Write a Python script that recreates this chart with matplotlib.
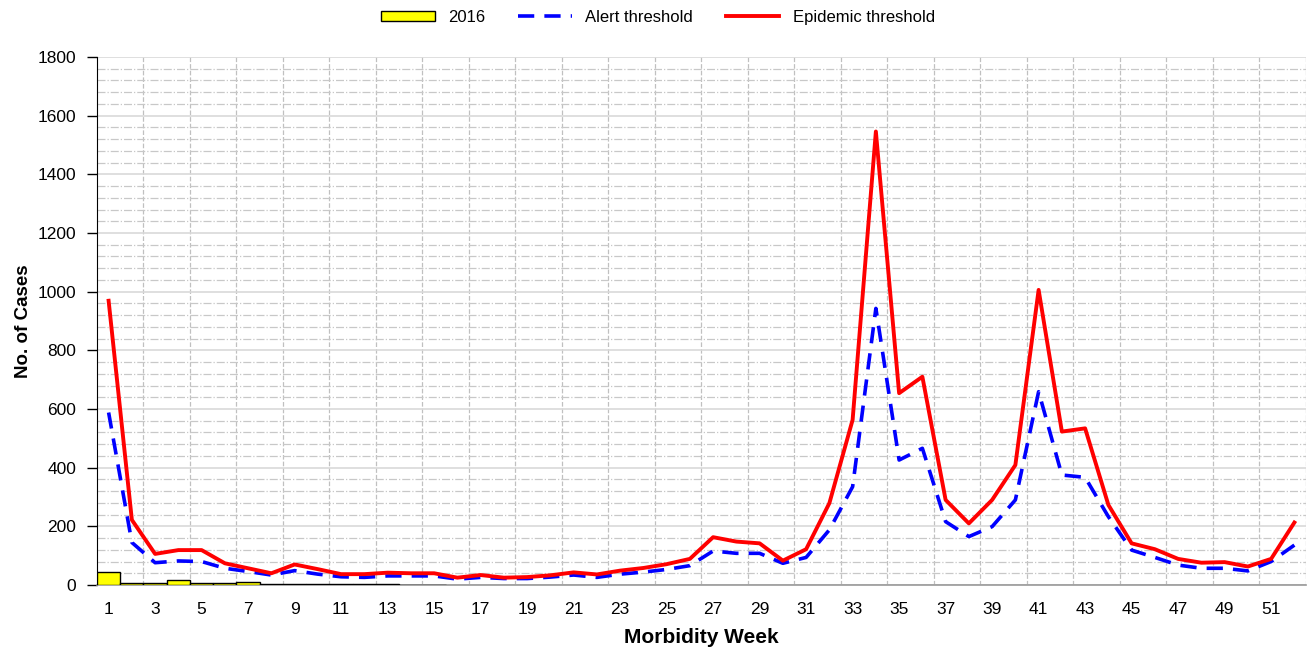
import numpy as np
import matplotlib.pyplot as plt
from matplotlib.ticker import MultipleLocator

plt.rcParams['font.family'] = ['Liberation Sans', 'DejaVu Sans']

# weekly data
weeks = list(range(1, 53))
cases_2016 = [45, 8, 8, 17, 8, 8, 11, 5, 2, 2, 2, 5, 2, 1, 1]
alert = [588, 145, 76, 82, 80, 57, 46, 34, 49, 37, 28, 26, 31, 31, 31, 20,
         26, 22, 22, 27, 34, 26, 37, 44, 53, 66, 116, 108, 108, 74, 94, 188,
         335, 943, 426, 466, 216, 165, 199, 290, 659, 375, 367, 233, 119, 94,
         68, 57, 57, 48, 80, 136]
epidemic = [969, 222, 106, 119, 119, 74, 57, 40, 70, 54, 37, 37, 42, 40, 40, 25,
            34, 25, 27, 33, 43, 36, 49, 58, 71, 89, 163, 148, 142, 83, 122, 279,
            563, 1546, 654, 710, 290, 210, 290, 409, 1006, 523, 534, 273, 142, 122,
            89, 76, 78, 63, 89, 213]
tick_weeks = list(range(1, 53, 2))

fig = plt.figure(figsize=(13.16, 6.5), dpi=100)
ax = fig.add_axes([0.0737, 0.1, 0.9187, 0.8123])

b = ax.bar(weeks[:len(cases_2016)], cases_2016, width=1.0, color='#ffff00',
           edgecolor='black', linewidth=1, label='2016', zorder=3)
l1, = ax.plot(weeks, alert, color='#0000ff', lw=2.6, dashes=(4.5, 2.8), label='Alert threshold', zorder=4)
l2, = ax.plot(weeks, epidemic, color='#ff0000', lw=2.8, label='Epidemic threshold', zorder=5)

ax.set_xlim(0.5, 52.5)
ax.set_ylim(0, 1800)
ax.yaxis.set_major_locator(MultipleLocator(200))
ax.yaxis.set_minor_locator(MultipleLocator(40))
ax.set_xticks(tick_weeks)
ax.set_xticks(np.arange(2.5, 53, 2), minor=True)
ax.tick_params(axis='x', which='both', length=0, labelsize=12.5, pad=12)
ax.tick_params(axis='y', which='major', length=7, labelsize=12.5, width=1, pad=8)
ax.tick_params(axis='y', which='minor', length=0)

ax.grid(axis='y', which='major', color='#d9d9d9', lw=1.2, ls='-', zorder=0)
ax.grid(axis='y', which='minor', color='#c8c8c8', lw=0.9, ls='-.', zorder=0)
ax.grid(axis='x', which='minor', color='#c0c0c0', lw=0.9, ls='--', zorder=0)
ax.grid(axis='x', which='major', visible=False)

for s in ['top', 'right']:
    ax.spines[s].set_visible(False)
ax.spines['left'].set_color('black')
ax.spines['bottom'].set_color('#999999')
ax.spines['bottom'].set_linewidth(1.2)

ax.set_xlabel('Morbidity Week', fontsize=15, fontweight='bold', labelpad=8)
ax.set_ylabel('No. of Cases', fontsize=13.5, fontweight='bold', labelpad=4)

fig.legend([b, l1, l2], ['2016', 'Alert threshold', 'Epidemic threshold'],
           loc='upper center', bbox_to_anchor=(0.5, 1.008), ncol=3, frameon=False,
           fontsize=12, handlelength=3.2, handleheight=0.55, columnspacing=2.0)

plt.savefig('out.png', dpi=100)
